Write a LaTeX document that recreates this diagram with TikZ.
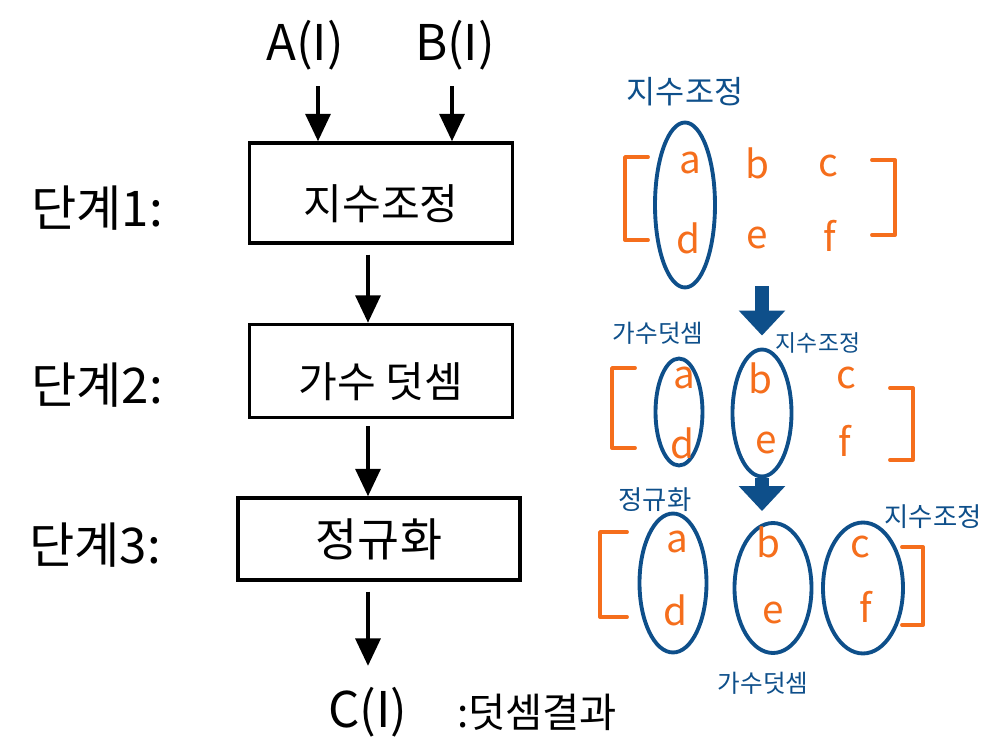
\documentclass[tikz,border=0pt]{standalone}
\usepackage{fontspec}
\setmainfont{Noto Sans CJK KR}
\usetikzlibrary{arrows.meta,shapes.geometric}
\definecolor{hblue}{RGB}{14,79,138}
\definecolor{horange}{RGB}{245,110,28}
\begin{document}
\begin{tikzpicture}[x=0.02cm,y=-0.02cm,
  stage/.style={draw,line width=2pt,minimum width=5.26cm,text height=1.16cm,text depth=0.1cm,font=\fontsize{24}{28}\selectfont},
  big/.style={font=\fontsize{28}{32}\selectfont},
  arr/.style={line width=2pt,-{Triangle[length=0.55cm,width=0.5cm]}},
  note/.style={text=hblue,font=\fontsize{15}{18}\selectfont},
  elem/.style={text=horange,font=\fontsize{22}{26}\selectfont},
  grp/.style={draw=hblue,ellipse,line width=2.2pt,inner sep=0pt},
  brk/.style={draw=horange,line width=2.2pt,line cap=round,line join=round},
  bigarr/.style={draw=hblue,line width=8.5pt,-{Triangle[length=0.5cm,width=0.9cm]}}
]
\useasboundingbox (0,0) rectangle (1002,746);

% ---------- left: flow chart ----------
\node[big] (A) at (305,45) {A(I)};
\node[big] (B) at (455,45) {B(I)};
\node[stage,minimum height=2cm] (s1) at (381,193) {지수조정};
\node[stage,minimum height=1.86cm] (s2) at (381,371) {가수 덧셈};
\node[stage,minimum width=5.64cm,minimum height=1.64cm,text height=0.8cm,font=\fontsize{26}{30}\selectfont] (s3) at (379,539) {정규화};
\node[big] (C) at (368,712) {C(I)};
\node[font=\fontsize{23}{27}\selectfont] (R) at (537,712) {:덧셈결과};

\node[big] (l1) at (97,208) {단계1:};
\node[big] (l2) at (97,385) {단계2:};
\node[big] (l3) at (95,545) {단계3:};

\draw[arr,shorten <=0.2cm] ([xshift=0.26cm]A.south) -- ([xshift=0.26cm]A.south |- s1.north);
\draw[arr,shorten <=0.2cm] ([xshift=-0.06cm]B.south) -- ([xshift=-0.06cm]B.south |- s1.north);
\draw[arr] ([yshift=-0.2cm]s1.south -| C) -- (s2.north -| C);
\draw[arr] ([yshift=-0.14cm]s2.south -| C) -- (s3.north -| C);
\draw[arr,shorten >=0.3cm] ([yshift=-0.2cm]s3.south -| C) -- (C.north);

% ---------- right: matrix 1 ----------
\node[note,font=\fontsize{18}{21}\selectfont] (n1) at (685,92) {지수조정};
\node[grp,minimum width=1.2cm,minimum height=3.3cm] (g1ad) at (685,205) {};
\node[elem] (a1) at (690,163) {a};
\node[elem] (b1) at (757,163) {b};
\node[elem] (c1) at (828,166) {c};
\node[elem] (d1) at (688,238) {d};
\node[elem] (e1) at (757,238) {e};
\node[elem] (f1) at (830,236) {f};
\draw[brk] (648,157) -- (625,157) -- (625,240) -- (648,240);
\draw[brk] (872,160) -- (895,160) -- (895,235) -- (872,235);

% ---------- matrix 2 ----------
\node[note,font=\fontsize{14}{17}\selectfont] (n2) at (658,333) {가수덧셈};
\node[note,font=\fontsize{13}{16}\selectfont] (n3) at (818,343) {지수조정};
\node[grp,minimum width=0.94cm,minimum height=2.14cm] (g2ad) at (679,412) {};
\node[grp,minimum width=1.18cm,minimum height=2.54cm] (g2be) at (762,413) {};
\node[elem] (a2) at (684,378) {a};
\node[elem] (b2) at (760,378) {b};
\node[elem] (c2) at (846,378) {c};
\node[elem] (d2) at (682,443) {d};
\node[elem] (e2) at (766,443) {e};
\node[elem] (f2) at (845,441) {f};
\draw[brk] (635,368) -- (612,368) -- (612,448) -- (635,448);
\draw[brk] (890,388) -- (913,388) -- (913,460) -- (890,460);

\draw[bigarr,shorten >=0.24cm] ([yshift=0.06cm]g1ad.south -| g2be.north) -- (g2be.north);

% ---------- matrix 3 ----------
\node[note] (n4) at (655,500) {정규화};
\node[note] (n5) at (933,517) {지수조정};
\node[note,font=\fontsize{14}{17}\selectfont] (n6) at (763,683) {가수덧셈};
\node[grp,minimum width=1.34cm,minimum height=2.78cm] (g3ad) at (673,583) {};
\node[grp,minimum width=1.54cm,minimum height=2.6cm] (g3be) at (773,588) {};
\node[grp,minimum width=1.6cm,minimum height=2.62cm] (g3cf) at (863,588) {};
\node[elem] (a3) at (677,542) {a};
\node[elem] (b3) at (768,542) {b};
\node[elem] (c3) at (860,547) {c};
\node[elem] (d3) at (675,610) {d};
\node[elem] (e3) at (773,613) {e};
\node[elem] (f3) at (866,607) {f};
\draw[brk] (627,532) -- (600,532) -- (600,617) -- (627,617);
\draw[brk] (902,547) -- (923,547) -- (923,625) -- (902,625);

\draw[bigarr,shorten >=0.2cm] (g2be.south) -- (g2be.south |- g3be.north);
\end{tikzpicture}
\end{document}
